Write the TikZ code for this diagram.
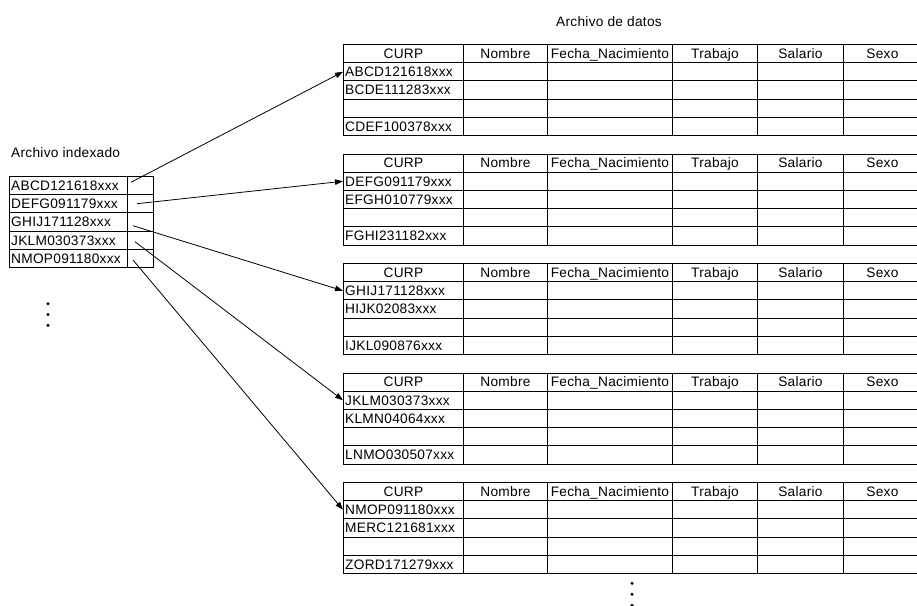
\documentclass[tikz,border=0pt]{standalone}
\usepackage{fontspec}
\setmainfont{Liberation Sans}[LetterSpace=2]
\usetikzlibrary{arrows.meta}
\begin{document}
\begin{tikzpicture}[x=1pt,y=-1pt,
  cellbox/.style={draw, line width=0.9pt, inner sep=0pt, anchor=north west, minimum height=18.2pt},
  txt/.style={inner sep=0pt, font=\fontsize{13.7}{16}\selectfont, text height=9.8pt, text depth=0pt},
  link/.style={line width=0.8pt, -{Triangle[length=8pt,width=5.5pt]}},
  dot/.style={circle, fill, inner sep=0pt, minimum size=3.4pt}]
\useasboundingbox (0,0) rectangle (917,605);
\clip (0,0) rectangle (917,605);

% titles
\node[txt, anchor=west] (tindex) at (11,153) {Archivo indexado};
\node[txt, anchor=west] (tdata) at (556,21.5) {Archivo de datos};

% index file
\foreach \i/\key in {1/ABCD121618xxx, 2/DEFG091179xxx, 3/GHIJ171128xxx, 4/JKLM030373xxx, 5/NMOP091180xxx}{
  \node[cellbox, minimum width=118pt] (ik\i) at (9,{176+(\i-1)*18.2}) {};
  \node[cellbox, minimum width=26pt] (ip\i) at (127,{176+(\i-1)*18.2}) {};
  \node[txt, anchor=west] (ikt\i) at ([xshift=2pt]ik\i.west) {\key};
}
\node[dot] (id1) at (48,303.7) {};
\node[dot] (id2) at (48,314.5) {};
\node[dot] (id3) at (48,325.3) {};

% data file: five blocks
\foreach \k/\ty/\a/\b/\c in {
  1/44/ABCD121618xxx/BCDE111283xxx/CDEF100378xxx,
  2/153.5/DEFG091179xxx/EFGH010779xxx/FGHI231182xxx,
  3/263/GHIJ171128xxx/HIJK02083xxx/IJKL090876xxx,
  4/372.5/JKLM030373xxx/KLMN04064xxx/LNMO030507xxx,
  5/482/NMOP091180xxx/MERC121681xxx/ZORD171279xxx}{
  \foreach \x/\w/\h [count=\cc] in {343/120/CURP, 463/84/Nombre, 547/125/Fecha\_Nacimiento, 672/85/Trabajo, 757/86/Salario, 843/78/Sexo}{
    \node[cellbox, minimum width=\w pt] (t\k-h\cc) at (\x,\ty) {};
    \node[txt] (t\k-l\cc) at (t\k-h\cc.center) {\h};
    \foreach \r in {1,...,4}{
      \node[cellbox, minimum width=\w pt] (t\k-r\r-c\cc) at (\x,{\ty+\r*18.2}) {};
    }
  }
  \node[txt, anchor=west] (t\k-a) at ([xshift=2pt]t\k-r1-c1.west) {\a};
  \node[txt, anchor=west] (t\k-b) at ([xshift=2pt]t\k-r2-c1.west) {\b};
  \node[txt, anchor=west] (t\k-c) at ([xshift=2pt]t\k-r4-c1.west) {\c};
}
\node[dot] (dd1) at (632,583.3) {};
\node[dot] (dd2) at (632,594.3) {};
\node[dot] (dd3) at (632,605.3) {};

% pointers from the index to the data blocks
\coordinate (s1) at (131,182.3);
\coordinate (s2) at (137,203.7);
\coordinate (s3) at (133,225.7);
\coordinate (s4) at (135,241.7);
\coordinate (s5) at (133,260);
\foreach \k in {1,...,5}{
  \draw[link] (s\k) -- (t\k-r1-c1.west);
}
\end{tikzpicture}
\end{document}
